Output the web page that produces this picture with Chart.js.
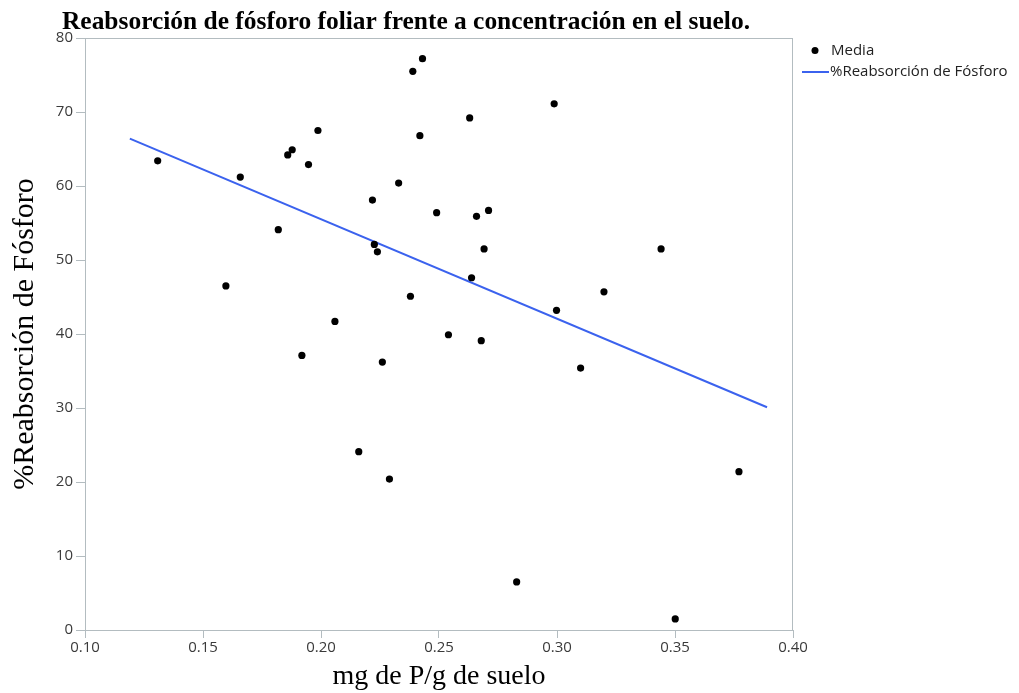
<!DOCTYPE html>
<html>
<head>
<meta charset="utf-8">
<script src="https://cdn.jsdelivr.net/npm/chart.js@4/dist/chart.umd.min.js"></script>
<style>
  html, body { margin: 0; padding: 0; background: #fff; }
  #wrap { width: 1019px; height: 693px; }
</style>
</head>
<body>
<div id="wrap"><canvas id="chartScatter" width="1019" height="693"></canvas></div>
<script>
// mg de P/g de suelo
var soilP = [0.1308, 0.1597, 0.1658, 0.1819, 0.1859, 0.1878, 0.1919, 0.1947, 0.1987, 0.2059,
             0.2160, 0.2218, 0.2226, 0.2239, 0.2260, 0.2290, 0.2329, 0.2379, 0.2389, 0.2419,
             0.2430, 0.2490, 0.2540, 0.2630, 0.2638, 0.2659, 0.2679, 0.2691, 0.2710, 0.2829,
             0.2988, 0.2998, 0.3100, 0.3199, 0.3441, 0.3501, 0.3771];
// %Reabsorción (Media)
var reabs  = [63.4, 46.5, 61.2, 54.1, 64.2, 64.9, 37.1, 62.9, 67.5, 41.7,
              24.1, 58.1, 52.1, 51.1, 36.2, 20.4, 60.4, 45.1, 75.5, 66.8,
              77.2, 56.4, 39.9, 69.2, 47.6, 55.9, 39.1, 51.5, 56.7, 6.5,
              71.1, 43.2, 35.4, 45.7, 51.5, 1.5, 21.4];
// recta ajustada
var fitX = [0.119, 0.389];
var fitY = [66.4, 30.1];

var titleText  = 'Reabsorción de fósforo foliar frente a concentración en el suelo.';
var xTitleText = 'mg de P/g de suelo';
var yTitleText = '%Reabsorción de Fósforo';
var legendLabels = ['Media', '%Reabsorción de Fósforo'];

var lineBlue  = '#3b62ee';
var axisGray  = '#b3bcc0';
var tickColor = '#3a3a3a';
var tickFont  = { family: '"Open Sans", "DejaVu Sans", sans-serif', size: 15 };

var extras = {
    id: 'extras',
    afterDraw: function (chart) {
        var ctx = chart.ctx, a = chart.chartArea;
        ctx.save();
        // marco
        ctx.strokeStyle = axisGray;
        ctx.lineWidth = 1;
        ctx.strokeRect(a.left + 0.5, a.top + 0.5, a.right - a.left - 1, a.bottom - a.top);
        // título
        ctx.fillStyle = '#000';
        ctx.font = 'bold 26px "Liberation Serif", serif';
        ctx.textBaseline = 'alphabetic';
        ctx.textAlign = 'left';
        ctx.fillText(titleText, 62, 29, 688);
        // leyenda
        ctx.font = '15px "Open Sans", sans-serif';
        ctx.textBaseline = 'middle';
        ctx.fillStyle = '#000';
        ctx.beginPath();
        ctx.arc(815, 50.5, 3.5, 0, Math.PI * 2);
        ctx.fill();
        ctx.fillStyle = '#222';
        ctx.fillText(legendLabels[0], 831, 50.5);
        ctx.strokeStyle = lineBlue;
        ctx.lineWidth = 2;
        ctx.beginPath();
        ctx.moveTo(802, 72);
        ctx.lineTo(829, 72);
        ctx.stroke();
        ctx.fillText(legendLabels[1], 830, 71.5);
        ctx.restore();
    }
};

var points = soilP.map(function (x, i) { return { x: x, y: reabs[i] }; });
var fitLine = fitX.map(function (x, i) { return { x: x, y: fitY[i] }; });

new Chart(document.getElementById('chartScatter').getContext('2d'), {
    type: 'scatter',
    data: {
        datasets: [{
            label: legendLabels[0], data: points,
            backgroundColor: '#000', borderColor: '#000',
            pointRadius: 3.6, pointHoverRadius: 3.6, borderWidth: 0,
        }, {
            label: legendLabels[1], data: fitLine, type: 'line',
            borderColor: lineBlue, borderWidth: 2, pointRadius: 0, fill: false, tension: 0,
        }]
    },
    options: {
        responsive: false,
        animation: false,
        events: [],
        layout: { padding: { left: 0, right: 226, top: 38, bottom: 0 } },
        plugins: { legend: { display: false }, title: { display: false }, tooltip: { enabled: false } },
        scales: {
            x: {
                type: 'linear', min: 0.1, max: 0.4,
                afterFit: function (s) { s.height = 63; },
                ticks: { stepSize: 0.05, color: tickColor, font: tickFont, padding: 1, maxRotation: 0,
                         callback: function (v) { return v.toFixed(2); } },
                grid: { drawOnChartArea: false, tickLength: 8, color: axisGray },
                border: { color: axisGray },
                title: { display: true, text: xTitleText, color: '#000',
                         font: { family: '"Liberation Serif", serif', size: 28 }, padding: { top: 0, bottom: 0 } }
            },
            y: {
                type: 'linear', min: 0, max: 80,
                afterFit: function (s) { s.width = 85; },
                ticks: { stepSize: 10, color: tickColor, font: tickFont, padding: 3 },
                grid: { drawOnChartArea: false, tickLength: 9, color: axisGray },
                border: { color: axisGray },
                title: { display: true, text: yTitleText, color: '#000',
                         font: { family: '"Liberation Serif", serif', size: 30 }, padding: { top: 7, bottom: 0 } }
            }
        }
    },
    plugins: [extras]
});
</script>
</body>
</html>
